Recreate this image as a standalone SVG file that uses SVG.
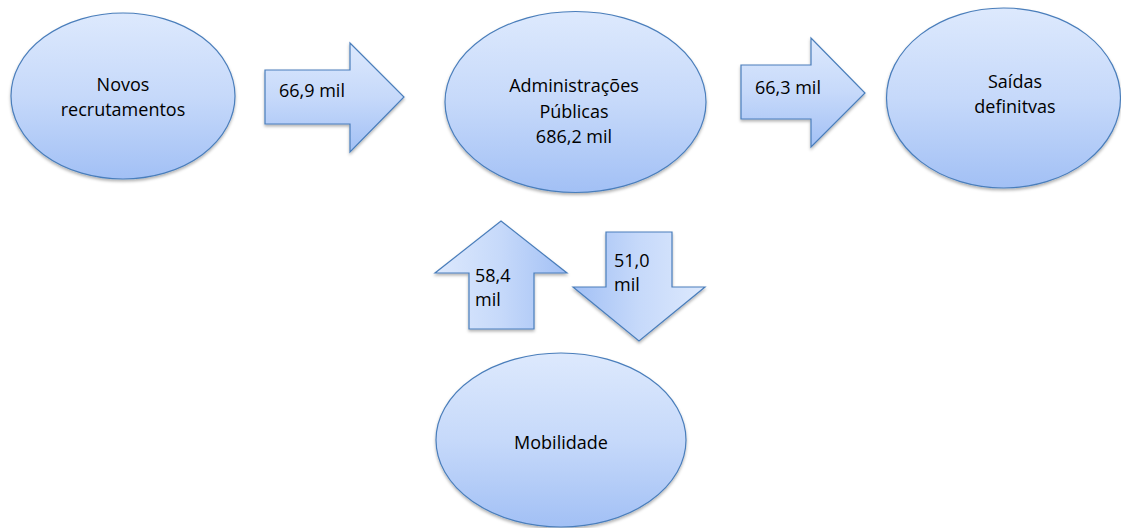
<svg xmlns="http://www.w3.org/2000/svg" width="1121" height="528" viewBox="0 0 1121 528">
<style>
.n{stroke:#4a7ebb;stroke-width:1.2;filter:url(#sh)}
.t{font-family:"Open Sans","Liberation Sans",sans-serif;font-size:18px;fill:#000}
.c{text-anchor:middle}
</style>
<defs>
<linearGradient id="gv" x1="0" y1="0" x2="0" y2="1"><stop offset="0" stop-color="#dde9fd"/><stop offset="0.5" stop-color="#c6d9fa"/><stop offset="1" stop-color="#a2c0f5"/></linearGradient>
<linearGradient id="gu" x1="0" y1="0" x2="1" y2="0"><stop offset="0" stop-color="#dde9fd"/><stop offset="0.5" stop-color="#c6d9fa"/><stop offset="1" stop-color="#a2c0f5"/></linearGradient>
<linearGradient id="gd" x1="1" y1="0" x2="0" y2="0"><stop offset="0" stop-color="#dde9fd"/><stop offset="0.5" stop-color="#c6d9fa"/><stop offset="1" stop-color="#a2c0f5"/></linearGradient>
<filter id="sh" x="-10%" y="-10%" width="120%" height="125%"><feDropShadow dx="0" dy="2" stdDeviation="1.5" flood-color="#000" flood-opacity="0.3"/></filter>
</defs>
<g id="novos"><ellipse class="n" cx="123" cy="96" rx="112" ry="83" fill="url(#gv)"/><text class="t c" x="123" y="91">Novos</text><text class="t c" x="123" y="116">recrutamentos</text></g>
<g id="admin"><ellipse class="n" cx="575.5" cy="102" rx="130.5" ry="90.5" fill="url(#gv)"/><text class="t c" x="574" y="92">Administrações</text><text class="t c" x="574" y="118">Públicas</text><text class="t c" x="574" y="143">686,2 mil</text></g>
<g id="saidas"><ellipse class="n" cx="1003.5" cy="98" rx="117" ry="90" fill="url(#gv)"/><text class="t c" x="1015" y="88">Saídas</text><text class="t c" x="1015" y="113">definitvas</text></g>
<g id="mobilidade"><ellipse class="n" cx="561" cy="440" rx="125" ry="87" fill="url(#gv)"/><text class="t c" x="561" y="449">Mobilidade</text></g>
<g id="connectors">
<g id="a1"><polygon class="n" points="265,70 350,70 350,43 404,97 350,152 350,124 265,124" fill="url(#gv)"/><text class="t" x="279" y="97">66,9 mil</text></g>
<g id="a2"><polygon class="n" points="741,65 811,65 811,38 865,93 811,147 811,119 741,119" fill="url(#gv)"/><text class="t" x="755" y="94">66,3 mil</text></g>
<g id="a3"><polygon class="n" points="501,221 567,273 534,273 534,329 469,329 469,273 435,273" fill="url(#gu)"/><text class="t" x="475" y="282">58,4</text><text class="t" x="475" y="306">mil</text></g>
<g id="a4"><polygon class="n" points="606,232 672,232 672,287 705,287 639,341 573,287 606,287" fill="url(#gd)"/><text class="t" x="614" y="267">51,0</text><text class="t" x="614" y="291">mil</text></g>
</g>
</svg>
